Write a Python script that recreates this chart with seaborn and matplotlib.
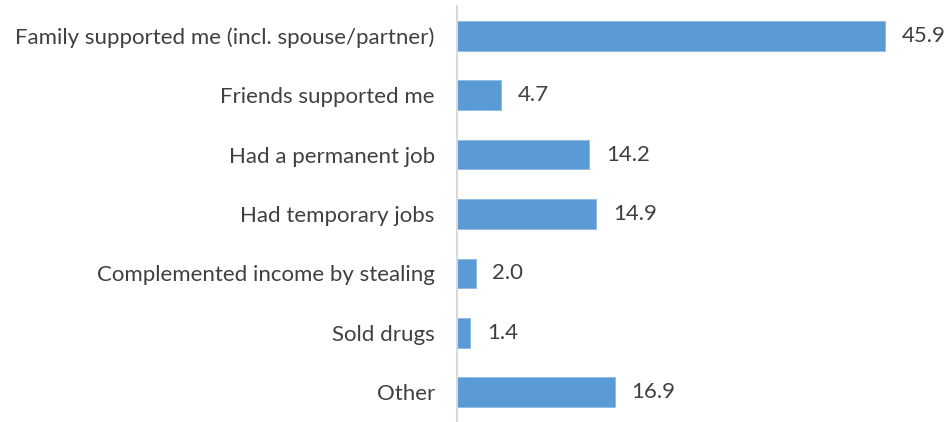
import matplotlib
matplotlib.use("Agg")
import matplotlib.pyplot as plt
import seaborn as sns
import pandas as pd

categories = [
    "Family supported me (incl. spouse/partner)",
    "Friends supported me",
    "Had a permanent job",
    "Had temporary jobs",
    "Complemented income by stealing",
    "Sold drugs",
    "Other",
]
values = [45.9, 4.7, 14.2, 14.9, 2.0, 1.4, 16.9]

sns.set_theme(style="white")
plt.rcParams["font.family"] = ["Lato", "DejaVu Sans"]

df = pd.DataFrame({"category": categories, "value": values})

fig = plt.figure(figsize=(9.47, 4.22), dpi=100)
ax = fig.add_axes([457 / 947, 0.0, 443 / 947, 416 / 422])

sns.barplot(data=df, x="value", y="category", orient="h", color="#5B9BD5",
            saturation=1, width=0.5, edgecolor="#8DB9E4", linewidth=0.6, ax=ax)

ax.set_xlim(0, 443 / 9.325)
ax.set_ylim(6.5, -0.5)
ax.set_xlabel("")
ax.set_ylabel("")
ax.set_xticks([])
for side in ("top", "right", "bottom"):
    ax.spines[side].set_visible(False)
ax.spines["left"].set_color("#D9D9D9")
ax.spines["left"].set_linewidth(1.5)
ax.tick_params(axis="y", length=0, pad=16, labelsize=16, labelcolor="#404040")

for i, v in enumerate(values):
    ax.text(v + 1.8, i, f"{v:.1f}", va="center", ha="left",
            fontsize=16, color="#404040", clip_on=False)

fig.savefig("out.png", dpi=100)
